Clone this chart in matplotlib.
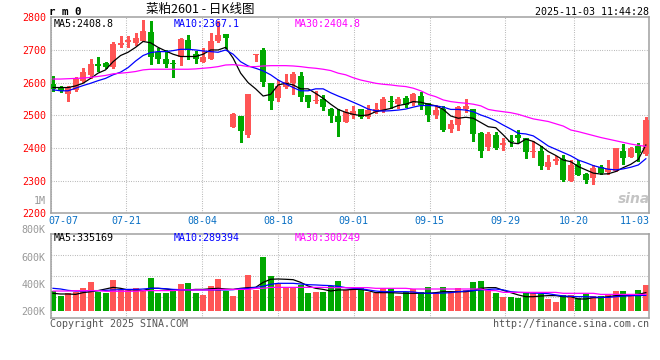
import matplotlib
matplotlib.use("Agg")
import matplotlib.pyplot as plt
import matplotlib.transforms as mtransforms

# ---------------- data ----------------
tick_labels = ["07-07", "07-21", "08-04", "08-18", "09-01", "09-15", "09-29", "10-20", "11-03"]
tick_days = [0, 10, 20, 30, 40, 50, 60, 69, 79]

open_p = [2596, 2583, 2565, 2578, 2606, 2623, 2657, 2661, 2647, 2715,
          2723, 2721, 2727, 2756, 2693, 2673, 2661, 2678, 2731, 2689,
          2664, 2673, 2726, 2749, 2465, 2498, 2440, 2686, 2700, 2598,
          2554, 2588, 2600, 2620, 2562, 2543, 2550, 2519, 2499, 2479,
          2502, 2518, 2494, 2511, 2514, 2544, 2535, 2554, 2537, 2560,
          2537, 2501, 2518, 2458, 2471, 2518, 2518, 2447, 2402, 2440,
          2409, 2422, 2440, 2430, 2389, 2391, 2343, 2360, 2366, 2300,
          2350, 2321, 2309, 2341, 2325, 2331, 2391, 2371, 2407, 2381]
close_p = [2581, 2574, 2588, 2611, 2634, 2657, 2651, 2649, 2718, 2721,
           2729, 2737, 2759, 2680, 2673, 2657, 2658, 2734, 2700, 2673,
           2680, 2726, 2746, 2738, 2505, 2453, 2564, 2688, 2603, 2545,
           2590, 2603, 2627, 2557, 2542, 2547, 2524, 2499, 2481, 2511,
           2512, 2496, 2516, 2518, 2550, 2540, 2550, 2532, 2565, 2532,
           2501, 2516, 2455, 2473, 2524, 2530, 2444, 2391, 2444, 2399,
           2416, 2417, 2432, 2389, 2392, 2345, 2358, 2365, 2302, 2348,
           2318, 2302, 2338, 2323, 2336, 2399, 2369, 2401, 2386, 2486]
high_p = [2620, 2590, 2590, 2618, 2646, 2672, 2677, 2664, 2725, 2743,
          2743, 2751, 2792, 2789, 2705, 2700, 2669, 2736, 2746, 2698,
          2705, 2751, 2789, 2749, 2507, 2498, 2564, 2688, 2705, 2600,
          2608, 2626, 2632, 2634, 2562, 2573, 2562, 2521, 2518, 2518,
          2529, 2518, 2533, 2537, 2556, 2560, 2557, 2560, 2567, 2570,
          2537, 2531, 2529, 2486, 2530, 2550, 2520, 2450, 2450, 2450,
          2430, 2440, 2455, 2432, 2422, 2405, 2377, 2375, 2377, 2363,
          2363, 2323, 2348, 2348, 2363, 2401, 2411, 2404, 2416, 2496]
low_p = [2575, 2570, 2545, 2575, 2603, 2615, 2636, 2646, 2644, 2708,
         2710, 2715, 2726, 2657, 2659, 2647, 2617, 2654, 2673, 2661,
         2662, 2673, 2723, 2705, 2464, 2419, 2435, 2666, 2591, 2519,
         2544, 2583, 2565, 2544, 2524, 2537, 2517, 2478, 2437, 2478,
         2492, 2493, 2492, 2508, 2511, 2522, 2523, 2524, 2532, 2519,
         2483, 2493, 2452, 2448, 2455, 2511, 2422, 2373, 2394, 2397,
         2394, 2407, 2417, 2370, 2373, 2336, 2336, 2351, 2300, 2300,
         2318, 2294, 2290, 2321, 2320, 2331, 2351, 2371, 2361, 2379]

ma5 = [2585, 2585, 2585, 2590, 2598, 2613, 2629, 2639, 2664, 2683,
       2693, 2708, 2726, 2722, 2708, 2697, 2687, 2680, 2680, 2680,
       2687, 2700, 2700, 2708, 2675, 2629, 2600, 2581, 2559, 2564,
       2593, 2598, 2593, 2581, 2581, 2567, 2552, 2534, 2518, 2509,
       2503, 2499, 2501, 2511, 2516, 2521, 2530, 2534, 2542, 2540,
       2534, 2529, 2518, 2498, 2491, 2494, 2491, 2478, 2465, 2462,
       2440, 2416, 2413, 2427, 2420, 2406, 2389, 2377, 2363, 2358,
       2343, 2333, 2323, 2320, 2321, 2328, 2340, 2350, 2365, 2409]
ma10 = [2578, 2575, 2575, 2583, 2591, 2598, 2606, 2613, 2624, 2632,
        2646, 2666, 2683, 2692, 2695, 2695, 2698, 2702, 2702, 2700,
        2697, 2695, 2693, 2700, 2687, 2664, 2651, 2644, 2636, 2624,
        2608, 2596, 2585, 2575, 2575, 2581, 2581, 2569, 2559, 2550,
        2540, 2530, 2519, 2514, 2513, 2514, 2516, 2519, 2525, 2530,
        2530, 2529, 2525, 2518, 2518, 2516, 2511, 2501, 2493, 2483,
        2470, 2458, 2445, 2443, 2437, 2422, 2406, 2396, 2386, 2376,
        2363, 2355, 2346, 2340, 2335, 2333, 2336, 2341, 2348, 2367]
ma30 = [2611, 2611, 2612, 2613, 2614, 2616, 2619, 2622, 2627, 2629,
        2631, 2634, 2639, 2641, 2641, 2641, 2641, 2641, 2641, 2642,
        2644, 2646, 2649, 2654, 2655, 2653, 2649, 2649, 2651, 2652,
        2652, 2652, 2651, 2649, 2646, 2644, 2641, 2637, 2629, 2624,
        2615, 2608, 2603, 2598, 2595, 2593, 2590, 2588, 2583, 2575,
        2564, 2557, 2547, 2542, 2539, 2537, 2534, 2529, 2518, 2514,
        2511, 2508, 2503, 2496, 2489, 2485, 2481, 2474, 2467, 2455,
        2450, 2444, 2438, 2432, 2427, 2422, 2417, 2412, 2408, 2405]

volume_k = [351, 311, 331, 343, 373, 415, 343, 333, 430, 353,
            356, 373, 356, 444, 333, 333, 351, 400, 407, 333,
            319, 385, 437, 351, 311, 356, 467, 356, 600, 459,
            400, 375, 375, 393, 333, 343, 343, 388, 422, 356,
            356, 368, 343, 336, 368, 368, 314, 338, 360, 343,
            380, 331, 380, 338, 373, 356, 417, 422, 360, 336,
            306, 306, 299, 336, 336, 326, 289, 269, 319, 319,
            299, 326, 311, 314, 319, 348, 348, 314, 356, 393]
vol_ma5_k = [331, 326, 326, 323, 336, 343, 351, 363, 375, 368,
             356, 356, 351, 368, 368, 363, 356, 356, 356, 360,
             360, 365, 368, 363, 360, 368, 373, 375, 412, 435,
             437, 435, 432, 412, 385, 368, 360, 348, 356, 356,
             360, 360, 351, 336, 336, 336, 333, 331, 331, 331,
             331, 336, 343, 343, 343, 343, 351, 368, 373, 373,
             353, 336, 319, 306, 306, 311, 314, 314, 306, 306,
             289, 289, 299, 299, 306, 314, 314, 314, 323, 336]
vol_ma10_k = [368, 363, 353, 348, 348, 351, 351, 353, 356, 358,
              360, 360, 363, 368, 368, 365, 360, 358, 356, 356,
              356, 356, 356, 356, 358, 365, 368, 375, 383, 398,
              405, 405, 405, 400, 395, 393, 390, 388, 383, 373,
              368, 365, 356, 348, 343, 343, 343, 343, 341, 333,
              331, 331, 333, 336, 343, 348, 351, 356, 360, 363,
              356, 343, 338, 336, 333, 331, 328, 319, 311, 309,
              306, 306, 304, 301, 301, 306, 311, 314, 314, 316]
vol_ma30_k = [348, 348, 348, 351, 351, 351, 351, 346, 346, 346,
              346, 346, 351, 351, 351, 351, 351, 356, 356, 356,
              356, 356, 360, 360, 360, 360, 360, 368, 368, 375,
              375, 375, 375, 375, 375, 375, 375, 373, 373, 373,
              373, 373, 373, 368, 368, 368, 368, 368, 363, 363,
              363, 363, 363, 363, 363, 363, 363, 363, 351, 351,
              338, 338, 338, 338, 338, 338, 338, 338, 331, 331,
              331, 331, 331, 323, 323, 323, 323, 323, 323, 323]
vol_base_k = 200

price_ticks = [2200, 2300, 2400, 2500, 2600, 2700, 2800]
vol_ticks_k = [200, 400, 600]
vol_top_label_k = 800

title = "菜粕2601 - 日K线图"
symbol = "r m 0"
timestamp = "2025-11-03 11:44:28"
ma_price_labels = ["MA5:2408.8", "MA10:2367.1", "MA30:2404.8"]
ma_vol_labels = ["MA5:335169", "MA10:289394", "MA30:300249"]

# ---------------- style ----------------
plt.rcParams['font.family'] = ['DejaVu Sans Mono', 'DejaVu Sans']
FS = 7.2
UP, DOWN = '#FF5555', '#00A800'
MA_COLORS = ['#000000', '#0000FF', '#FF00FF']
GRID = dict(color='#A8A8A8', linewidth=0.75, linestyle=(0, (0.75, 1.5)), zorder=0)
SPINE = '#A0A0A0'

W, H = 660, 360
fig = plt.figure(figsize=(W / 100, H / 100), dpi=100)
fig.patch.set_facecolor('white')


def box(x0, y0, x1, y1):
    return [x0 / W, 1 - y1 / H, (x1 - x0) / W, (y1 - y0) / H]


ax_p = fig.add_axes(box(50.7, 17.3, 649.3, 213.3))
ax_v = fig.add_axes(box(50.7, 234.3, 649.3, 318.3))

n = len(close_p)
x = list(range(n))
x_lo, x_hi = -0.31, n - 1 + 0.46
grid_x = [x_lo + d * (x_hi - x_lo) / (n - 1) for d in tick_days]
colors = [UP if c >= o else DOWN for o, c in zip(open_p, close_p)]

# ---- price panel ----
for g in grid_x:
    ax_p.axvline(g, **GRID)
for p in price_ticks[1:-1]:
    ax_p.axhline(p, **GRID)

ax_p.vlines(x, low_p, high_p, colors=colors, linewidth=0.75, zorder=2, antialiased=False)
body_bottom = [min(o, c) for o, c in zip(open_p, close_p)]
body_h = [max(abs(c - o), 2.6) for o, c in zip(open_p, close_p)]
ax_p.bar(x, body_h, bottom=body_bottom, width=0.8, color=colors, linewidth=0, zorder=3)
for series, col in zip([ma5, ma10, ma30], MA_COLORS):
    ax_p.plot(x, series, color=col, linewidth=0.9, zorder=4)

ax_p.set_xlim(x_lo, x_hi)
ax_p.set_ylim(price_ticks[0], price_ticks[-1])
ax_p.set_yticks(price_ticks)
ax_p.set_yticklabels([str(p) for p in price_ticks], color='#FF0000', fontsize=FS)
ax_p.set_xticks(grid_x)
ax_p.set_xticklabels(tick_labels, color='#0A70C4', fontsize=FS)
ax_p.tick_params(axis='y', length=0, pad=2.9)
ax_p.tick_params(axis='x', length=0, pad=2.3)
xt = ax_p.get_xticklabels()
xt[-1].set_ha('right')
# first date label starts just right of the left-hand axis labels
xt[0].set_ha('left')
xt[0].set_transform(xt[0].get_transform() +
                    mtransforms.ScaledTranslation(-2.5 / 100, 0, fig.dpi_scale_trans))

# ---- volume panel ----
v_lo, v_hi = 146, 768
for g in grid_x:
    ax_v.axvline(g, **GRID)
for f in (0.25, 0.5, 0.75):
    ax_v.axhline(v_lo + f * (v_hi - v_lo), **GRID)
ax_v.bar(x, [v - vol_base_k for v in volume_k], bottom=vol_base_k, width=0.8,
         color=colors, linewidth=0, zorder=2)
for series, col in zip([vol_ma5_k, vol_ma10_k, vol_ma30_k], MA_COLORS):
    ax_v.plot(x, series, color=col, linewidth=0.9, zorder=4)
ax_v.set_xlim(x_lo, x_hi)
ax_v.set_ylim(v_lo, v_hi)
ax_v.set_xticks([])
ax_v.set_yticks(vol_ticks_k)
ax_v.set_yticklabels([f"{v}K" for v in vol_ticks_k], color='#999999', fontsize=FS)
ax_v.tick_params(axis='y', length=0, pad=3.6)
trans = mtransforms.blended_transform_factory(ax_v.transAxes, ax_v.transData)
ax_v.text(-0.0084, vol_top_label_k, f"{vol_top_label_k}K", transform=trans, ha='right',
          va='center', color='#999999', fontsize=FS, clip_on=False)

for ax in (ax_p, ax_v):
    for s in ax.spines.values():
        s.set_color(SPINE)
        s.set_linewidth(1.1)
    ax.set_facecolor('white')

# ---- texts ----
fig.text(45.7 / W, 1 - 200.7 / H, "1M", ha='right', va='center', color='#999999', fontsize=FS)
fig.text(49 / W, 1 - 12 / H, symbol, ha='left', va='center', fontsize=FS + 0.6,
         fontweight='bold', color='black')
fig.text(200 / W, 1 - 9.5 / H, title, ha='center', va='center', fontsize=9,
         family=['Noto Sans CJK SC', 'DejaVu Sans'], color='black')
fig.text(649.3 / W, 1 - 11.7 / H, timestamp, ha='right', va='center', fontsize=FS, color='black')
for lab, col, xp in zip(ma_price_labels, MA_COLORS, [54, 174, 295]):
    fig.text(xp / W, 1 - 24 / H, lab, ha='left', va='center', fontsize=FS, color=col)
for lab, col, xp in zip(ma_vol_labels, MA_COLORS, [54, 174, 295]):
    fig.text(xp / W, 1 - 238.3 / H, lab, ha='left', va='center', fontsize=FS, color=col)
fig.text(50 / W, 1 - 324 / H, "Copyright 2025 SINA.COM", ha='left', va='center',
         fontsize=FS, color='#555555')
fig.text(649.3 / W, 1 - 324 / H, "http://finance.sina.com.cn", ha='right', va='center',
         fontsize=FS, color='#555555')
fig.text(634 / W, 1 - 199 / H, "sina", ha='center', va='center', fontsize=10,
         fontstyle='italic', fontweight='bold', color='#C4C4C4', family='DejaVu Sans', zorder=1)

fig.savefig("out.png", dpi=100, facecolor='white')
